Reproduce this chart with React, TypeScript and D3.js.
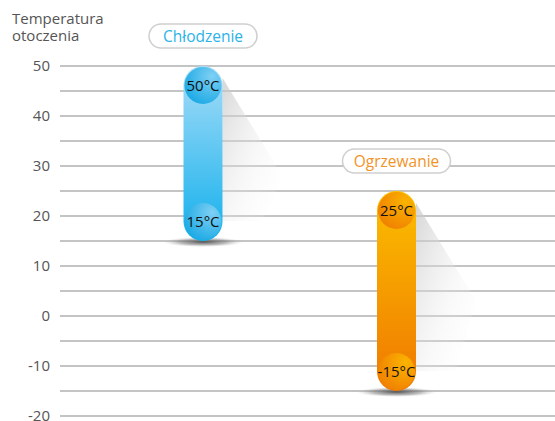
import React from "react";
import * as d3 from "d3";

const modes = ["Chłodzenie", "Ogrzewanie"];
const maxTemps = [50, 25];
const minTemps = [15, -15];
const labelTicks = [50, 40, 30, 20, 10, 0, -10, -20];
const gridValues = [50, 45, 40, 35, 30, 25, 20, 15, 10, 5, 0, -5, -10, -15, -20];
const titleLines = ["Temperatura", "otoczenia"];

const palettes = [
  { text: "#2cb3e8", top: "#a8ddf8", bottom: "#12b0ec", cDark: "#0ea4e2", cLight: "#7fd0f4" },
  { text: "#f29328", top: "#fbbf00", bottom: "#f07800", cDark: "#ef7a00", cLight: "#fbb400" },
];

const W = 555;
const H = 421;
const FONT = "'Open Sans', 'Noto Sans', sans-serif";

export default function App() {
  const y = d3.scaleLinear().domain([-20, 50]).range([416, 66]);
  const x = d3.scalePoint<string>().domain(modes).range([203, 396.5]);
  const barW = 39;
  const r = barW / 2;

  return (
    <svg width={W} height={H} style={{ position: "absolute", left: 0, top: 0, background: "#fff" }} fontFamily={FONT}>
      <defs>
        {palettes.map((p, i) => (
          <React.Fragment key={i}>
            <linearGradient id={`bar${i}`} x1="0" y1="0" x2="0" y2="1">
              <stop offset="0" stopColor={p.top} />
              <stop offset="1" stopColor={p.bottom} />
            </linearGradient>
            <radialGradient id={`circ${i}`} cx="0.7" cy="0.3" r="0.9" fx="0.75" fy="0.25">
              <stop offset="0" stopColor={p.cLight} />
              <stop offset="1" stopColor={p.cDark} />
            </radialGradient>
          </React.Fragment>
        ))}
        <linearGradient id="tri" x1="0" y1="0" x2="1" y2="1">
          <stop offset="0" stopColor="#c4c4c4" stopOpacity="0.7" />
          <stop offset="0.55" stopColor="#e8e8e8" stopOpacity="0.3" />
          <stop offset="1" stopColor="#ffffff" stopOpacity="0" />
        </linearGradient>
        <radialGradient id="floor" cx="0.5" cy="0.5" r="0.5">
          <stop offset="0" stopColor="#444" stopOpacity="0.9" />
          <stop offset="0.6" stopColor="#777" stopOpacity="0.5" />
          <stop offset="1" stopColor="#bbb" stopOpacity="0" />
        </radialGradient>
      </defs>

      {titleLines.map((t, i) => (
        <text key={t} x={12} y={24 + i * 17} fontSize={15} fill="#555">{t}</text>
      ))}

      {gridValues.map((v) => (
        <line key={v} x1={60} x2={W} y1={y(v)} y2={y(v)} stroke="#c4c4c4" strokeWidth={2} />
      ))}
      {labelTicks.map((v) => (
        <text key={v} x={50} y={y(v)} dy="0.36em" textAnchor="end" fontSize={15} fill="#555">{v}</text>
      ))}

      {modes.map((m, i) => {
        const cx = x(m)!;
        const top = y(maxTemps[i]);
        const bot = y(minTemps[i]);
        const xr = cx + r;
        const p = palettes[i];
        const pillW = 108;
        const pillH = 24;
        const pillY = top - 30;
        return (
          <g key={m}>
            <polygon
              points={`${xr},${top + 12} ${xr + 60},${top + 110} ${xr + 40},${bot - 20} ${xr},${bot - 20}`}
              fill="url(#tri)"
            />
            <ellipse cx={cx} cy={bot + 1} rx={40} ry={5} fill="url(#floor)" />
            <rect x={cx - r} y={top} width={barW} height={bot - top} rx={r} ry={r} fill={`url(#bar${i})`} />
            <circle cx={cx} cy={top + r} r={r - 1} fill={`url(#circ${i})`} />
            <circle cx={cx} cy={bot - r} r={r - 1} fill={`url(#circ${i})`} />
            <text x={cx} y={top + r} dy="0.36em" textAnchor="middle" fontSize={15} fill="#111">{`${maxTemps[i]}°C`}</text>
            <text x={cx} y={bot - r} dy="0.36em" textAnchor="middle" fontSize={15} fill="#111">{`${minTemps[i]}°C`}</text>
            <rect x={cx - pillW / 2} y={pillY - pillH / 2} width={pillW} height={pillH} rx={pillH / 2} fill="#fff" stroke="#cfcfcf" strokeWidth={1.5} />
            <text x={cx} y={pillY} dy="0.36em" textAnchor="middle" fontSize={15.5} fill={p.text}>{m}</text>
          </g>
        );
      })}
    </svg>
  );
}
